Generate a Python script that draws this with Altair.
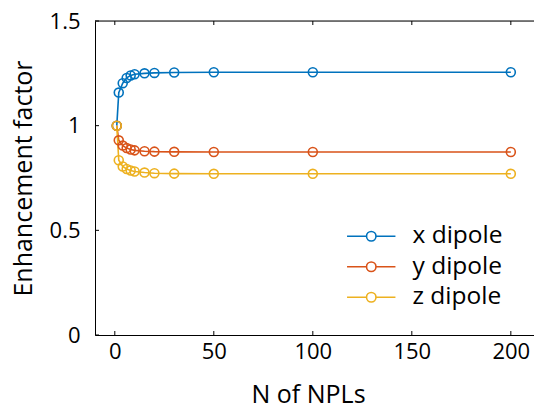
import altair as alt
import pandas as pd

# ---- data ----
n_npls = [1, 2, 4, 6, 8, 10, 15, 20, 30, 50, 100, 200]
x_dipole = [1.0, 1.158, 1.203, 1.228, 1.240, 1.246, 1.250, 1.252, 1.254, 1.255, 1.255, 1.255]
y_dipole = [1.0, 0.930, 0.905, 0.893, 0.886, 0.882, 0.878, 0.876, 0.875, 0.874, 0.874, 0.874]
z_dipole = [1.0, 0.835, 0.805, 0.793, 0.786, 0.781, 0.776, 0.773, 0.771, 0.770, 0.770, 0.770]
series_names = ["x dipole", "y dipole", "z dipole"]
series_colors = ["#0072BD", "#D95319", "#EDB120"]
x_ticks = [0, 50, 100, 150, 200]
y_ticks = [0, 0.5, 1, 1.5]

rows = []
for name, vals in zip(series_names, [x_dipole, y_dipole, z_dipole]):
    for n, v in zip(n_npls, vals):
        rows.append({"N": n, "value": v, "series": name})
df = pd.DataFrame(rows)

W, H = 439, 314
FONT = "Open Sans"
FS_TICK = 22
FS_TITLE = 25
FS_LEG = 24.5
xscale = alt.Scale(domain=[-10, 211.7], nice=False, zero=False)
yscale = alt.Scale(domain=[0, 1.5], nice=False, zero=False)

legend_path = ("M-2.2,0L-0.43,0M0.43,0A0.43,0.43,0,1,1,-0.43,0"
               "A0.43,0.43,0,1,1,0.43,0M0.43,0L2.2,0")

color = alt.Color(
    "series:N",
    scale=alt.Scale(domain=series_names, range=series_colors),
    legend=alt.Legend(
        title=None, orient="none", legendX=264, legendY=203,
        symbolType=legend_path, symbolSize=484, symbolStrokeWidth=1.6,
        symbolFillColor="white", labelFont=FONT, labelFontSize=FS_LEG,
        labelColor="black", labelOffset=29, rowPadding=5.5, padding=0,
    ),
)

x_axis = alt.Axis(values=x_ticks, ticks=False, grid=False, domainColor="black",
                  domainWidth=1, labelFont=FONT, labelFontSize=FS_TICK, labelColor="black",
                  labelPadding=6, title="N of NPLs", titleFont=FONT, titleFontSize=FS_TITLE,
                  titleFontWeight="normal", titleColor="black", titleX=213, titleY=59,
                  titleBaseline="middle")
y_axis = alt.Axis(values=y_ticks, format="~g", ticks=False, grid=False,
                  domainColor="black", domainWidth=1, labelFont=FONT, labelFontSize=FS_TICK,
                  labelColor="black", labelPadding=15, title="Enhancement factor",
                  titleFont=FONT, titleFontSize=FS_TITLE, titleFontWeight="normal",
                  titleColor="black", titleX=-72, titleY=157, titleAlign="center",
                  titleBaseline="middle")

x_enc = alt.X("N:Q", scale=xscale, axis=x_axis)
y_enc = alt.Y("value:Q", scale=yscale, axis=y_axis)

base = alt.Chart(df).encode(x=x_enc, y=y_enc, color=color)

lines = base.mark_line(strokeWidth=1.6)
points = base.mark_point(shape="circle", filled=False, size=80, strokeWidth=1.6, opacity=1)

xt = pd.DataFrame({"N": x_ticks})
yt = pd.DataFrame({"value": y_ticks})

bottom_ticks = alt.Chart(xt).mark_rule(color="black", strokeWidth=1).encode(
    x=x_enc, y=alt.value(H), y2=alt.value(H - 4))
top_ticks = alt.Chart(xt).mark_rule(color="black", strokeWidth=1).encode(
    x=x_enc, y=alt.value(0), y2=alt.value(4))
left_ticks = alt.Chart(yt).mark_rule(color="black", strokeWidth=1).encode(
    y=y_enc, x=alt.value(0), x2=alt.value(4))
top_line = alt.Chart(pd.DataFrame({"t": [0]})).mark_rule(color="black", strokeWidth=1).encode(
    x=alt.value(0), x2=alt.value(W), y=alt.value(0))

chart = alt.layer(lines, points, bottom_ticks, top_ticks, left_ticks, top_line).properties(
    width=W, height=H,
    autosize=alt.AutoSizeParams(type="none"),
    padding={"left": 87, "top": 13, "right": 0, "bottom": 73},
).configure_view(stroke=None).configure(background="white")

chart.save("out.html", embed_options={"renderer": "svg", "actions": False})
